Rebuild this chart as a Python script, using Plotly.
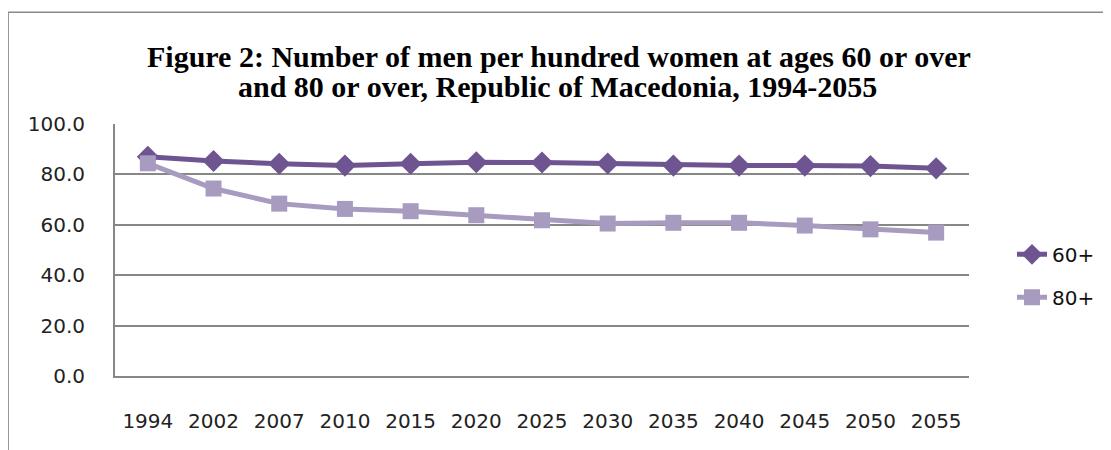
import plotly.graph_objects as go

years = ["1994", "2002", "2007", "2010", "2015", "2020", "2025",
         "2030", "2035", "2040", "2045", "2050", "2055"]
men60 = [87.0, 85.3, 84.2, 83.5, 84.2, 84.8, 84.7, 84.3, 83.5, 83.5, 83.5, 83.3, 82.4]
men80 = [84.4, 74.4, 68.4, 66.3, 65.4, 63.8, 61.8, 60.5, 60.8, 60.8, 59.7, 58.2, 56.9]
ytick_vals = [0, 20, 40, 60, 80, 100]
ytick_text = ["0.0", "20.0", "40.0", "60.0", "80.0", "100.0"]

c60 = "#6E5591"
c80 = "#A89BC0"
grid = "#878787"
tickfont = dict(family="DejaVu Sans", size=20, color="#222222")

fig = go.Figure()
fig.add_trace(go.Scatter(
    x=years, y=men60, name="60+", mode="lines+markers",
    legendgroup="a",
    line=dict(color=c60, width=5),
    marker=dict(symbol="diamond", size=17, color=c60),
))
fig.add_trace(go.Scatter(
    x=years, y=men80, name="80+", mode="lines+markers",
    legendgroup="b",
    line=dict(color=c80, width=5),
    marker=dict(symbol="square", size=16, color=c80),
))

OFF = 8  # page body margin
W, H = 1111 - OFF, 450 - OFF
L, T = 115 - OFF, 124 - OFF
pw, ph = 855, 252.5
R = W - L - pw
B = H - T - ph

def px(xr):
    return (xr - OFF - L) / pw

def py(yr):
    return (T + ph - (yr - OFF)) / ph

fig.update_layout(
    width=W, height=H,
    margin=dict(l=L, r=R, t=T, b=B),
    paper_bgcolor="white", plot_bgcolor="white",
    showlegend=True,
    legend=dict(
        x=px(1012), y=py(235), xanchor="left", yanchor="top",
        font=dict(family="DejaVu Sans", size=20, color="#111111"),
        bgcolor="rgba(0,0,0,0)", tracegroupgap=14,
    ),
    xaxis=dict(
        type="category", range=[-0.5, 12.5],
        showgrid=False, showline=True, linecolor=grid, linewidth=2,
        ticks="", tickfont=tickfont, ticklabelstandoff=26,
    ),
    yaxis=dict(
        range=[0, 100], tickvals=ytick_vals, ticktext=ytick_text,
        showgrid=True, gridcolor=grid, gridwidth=1.5,
        showline=True, linecolor=grid, linewidth=2,
        zeroline=False, ticks="", tickfont=tickfont, ticklabelstandoff=24,
    ),
    annotations=[
        dict(
            xref="paper", yref="paper", x=px(560), y=py(56),
            xanchor="center", yanchor="middle", showarrow=False,
            text="<b>Figure 2: Number of men per hundred women at ages 60 or over</b>",
            font=dict(family="Liberation Serif", size=30, color="black"),
        ),
        dict(
            xref="paper", yref="paper", x=px(558), y=py(86),
            xanchor="center", yanchor="middle", showarrow=False,
            text="<b>and 80 or over, Republic of Macedonia, 1994-2055</b>",
            font=dict(family="Liberation Serif", size=30, color="black"),
        ),
    ],
    shapes=[dict(
        type="rect", xref="paper", yref="paper",
        x0=px(8), x1=px(1130), y0=py(470), y1=py(12),
        line=dict(color="#8a8a8a", width=1.5), fillcolor="rgba(0,0,0,0)",
        layer="below",
    )],
)

fig.write_html("out.html")
